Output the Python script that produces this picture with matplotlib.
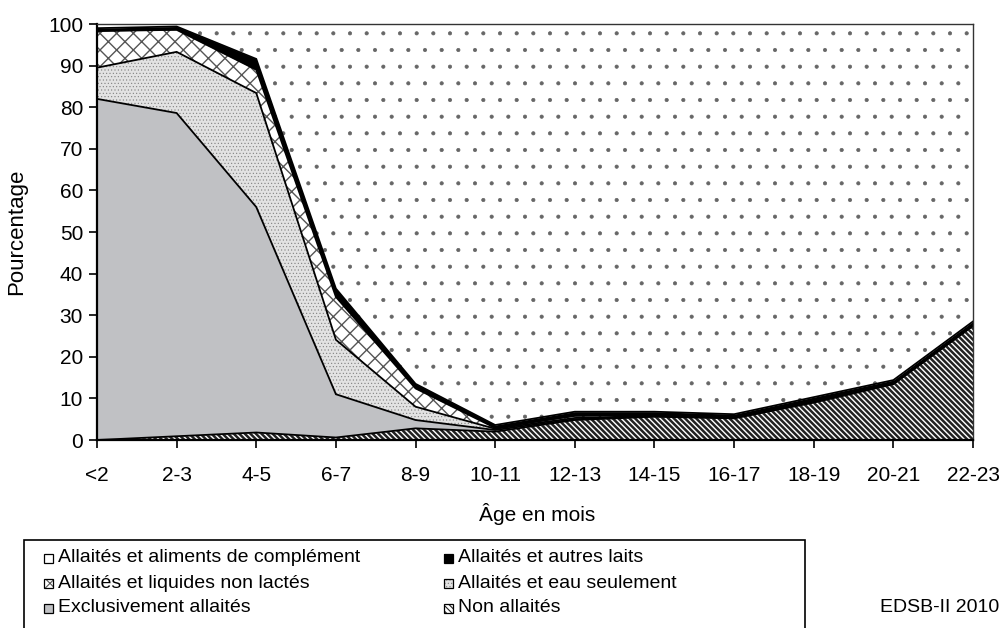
import numpy as np
import matplotlib
matplotlib.use('Agg')
import matplotlib.pyplot as plt
from matplotlib.patches import Rectangle

# ---------------- data (percent, stacked bottom -> top) ----------------
categories = ['<2', '2-3', '4-5', '6-7', '8-9', '10-11', '12-13',
              '14-15', '16-17', '18-19', '20-21', '22-23']
non_allaites = [0.0, 0.9, 1.8, 0.6, 2.8, 2.0, 4.8, 5.6, 5.2, 9.0, 13.4, 27.4]
exclusivement = [82.0, 77.7, 54.2, 10.4, 2.0, 0.4, 0.2, 0.1, 0.1, 0.1, 0.1, 0.1]
eau_seulement = [7.5, 14.7, 27.4, 13.1, 3.2, 0.3, 0.3, 0.1, 0.1, 0.1, 0.1, 0.1]
liquides_non_lactes = [8.8, 5.3, 5.6, 10.3, 4.4, 0.2, 0.5, 0.2, 0.1, 0.2, 0.1, 0.2]
autres_laits = [0.7, 0.8, 2.6, 2.0, 1.1, 0.7, 1.0, 0.8, 0.7, 0.9, 0.7, 0.7]
aliments_complement = [1.0, 0.6, 8.4, 63.6, 86.5, 96.4, 93.2, 93.2, 93.8, 89.7, 85.6, 71.5]

labels = ['Non allaités', 'Exclusivement allaités', 'Allaités et eau seulement',
          'Allaités et liquides non lactés', 'Allaités et autres laits',
          'Allaités et aliments de complément']
y_ticks = list(range(0, 101, 10))

plt.rcParams['font.family'] = ['Liberation Sans', 'DejaVu Sans']

W, H = 1001, 628
fig = plt.figure(figsize=(W / 100, H / 100), dpi=100)
ax = fig.add_axes([97 / W, 1 - 440 / H, (973 - 97) / W, (440 - 24) / H])

styles = [
    dict(face='white', hatch='\\\\\\\\\\\\', hcolor='#222222', hlw=1.8),
    dict(face='#c0c1c4', hatch=None, hcolor='#c0c1c4', hlw=1.0),
    dict(face='#e2e2e2', hatch='.....', hcolor='#808080', hlw=0.4),
    dict(face='white', hatch='xx', hcolor='#555555', hlw=1.0),
    dict(face='black', hatch=None, hcolor='black', hlw=1.0),
    dict(face='white', hatch='.', hcolor='#666666', hlw=0.5),
]
series = [non_allaites, exclusivement, eau_seulement, liquides_non_lactes,
          autres_laits, aliments_complement]

x = np.arange(len(categories))
base = np.zeros(len(x))
tops = []
for vals, st in zip(series, styles):
    top = base + np.asarray(vals, dtype=float)
    plt.rcParams['hatch.linewidth'] = st['hlw']
    coll = ax.fill_between(x, base, top, facecolor=st['face'],
                           hatch=st['hatch'], edgecolor=st['hcolor'],
                           linewidth=0)
    if hasattr(coll, 'set_hatch_linewidth'):
        coll.set_hatch_linewidth(st['hlw'])
    tops.append(top)
    base = top

for t in tops[:-1]:
    ax.plot(x, t, color='black', lw=1.3, solid_joinstyle='miter')

ax.set_xlim(0, len(categories) - 1)
ax.set_ylim(0, 100)
ax.set_xticks(x)
ax.set_xticklabels(categories)
ax.set_yticks(y_ticks)
ax.tick_params(direction='out', length=6, width=1.2, labelsize=15,
               colors='black')
ax.tick_params(axis='x', pad=13)
ax.tick_params(axis='y', pad=4)
for s in ['left', 'bottom']:
    ax.spines[s].set_linewidth(1.6)
for s in ['top', 'right']:
    ax.spines[s].set_linewidth(1.0)
    ax.spines[s].set_color('#333333')

fig.text(17 / W, 1 - 232 / H, 'Pourcentage', rotation=90, ha='center',
         va='center', fontsize=16)
fig.text(537 / W, 1 - 514 / H, 'Âge en mois', ha='center', va='center',
         fontsize=15)

# ---------------- legend (manual, box runs off the bottom) ----------------
def px(xp, yp):
    return xp / W, 1 - yp / H

bx0, by0 = px(24, 650)
bx1, by1 = px(805, 540)
fig.patches.append(Rectangle((bx0, by0), bx1 - bx0, by1 - by0,
                             transform=fig.transFigure, facecolor='white',
                             edgecolor='black', lw=1.2))

order = [5, 4, 3, 2, 1, 0]
positions = [(48, 558), (448, 558), (48, 583), (448, 583), (48, 608), (448, 608)]
ms = 9
for idx, (cx, cy) in zip(order, positions):
    st = styles[idx]
    plt.rcParams['hatch.linewidth'] = min(st['hlw'], 0.8)
    x0, y0 = px(cx - ms / 2, cy + ms / 2)
    r = Rectangle((x0, y0), ms / W, ms / H, transform=fig.transFigure,
                  facecolor=st['face'], hatch=st['hatch'],
                  edgecolor=st['hcolor'], lw=0)
    fig.patches.append(r)
    fig.patches.append(Rectangle((x0, y0), ms / W, ms / H,
                                 transform=fig.transFigure, facecolor='none',
                                 edgecolor='black', lw=0.9))
    tx, ty = px(cx + 10, cy)
    fig.text(tx, ty, labels[idx], ha='left', va='center', fontsize=14)

tx, ty = px(880, 608)
fig.text(tx, ty, 'EDSB-II 2010', ha='left', va='center', fontsize=14)

fig.savefig('out.png', dpi=100)
